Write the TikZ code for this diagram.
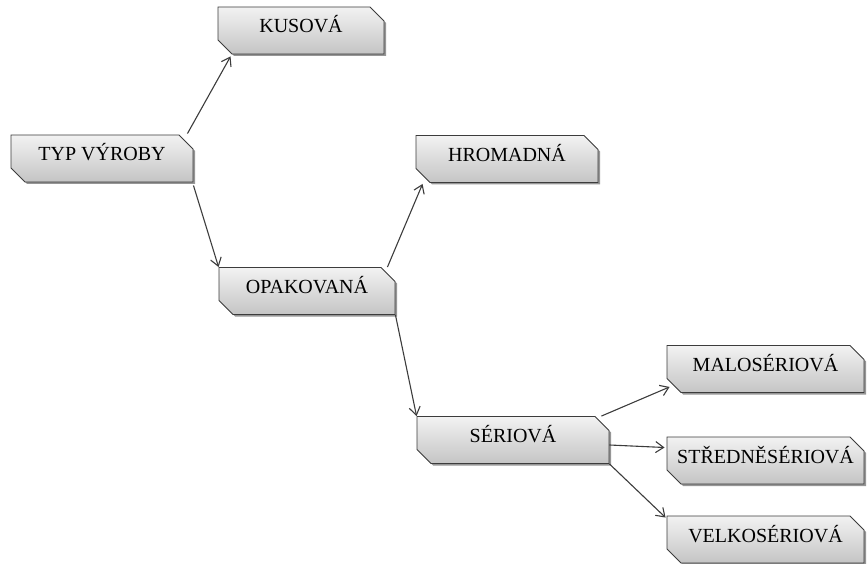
\documentclass[tikz,border=0pt]{standalone}
\usepackage{fontspec}
\setmainfont{Liberation Serif}
\usetikzlibrary{shapes.misc,shadows,arrows.meta,calc}

\definecolor{edgegray}{HTML}{3C3C3C}

\tikzset{
  box/.style={
    chamfered rectangle,
    chamfered rectangle corners={north east,south west},
    chamfered rectangle sep=7pt,
    draw=edgegray, line width=0.9pt,
    top color=black!5, bottom color=black!23,
    drop shadow={shadow xshift=2pt, shadow yshift=-2pt, fill=black!75, opacity=0.55},
    minimum height=47pt, inner sep=0pt,
    text height=10pt, text depth=5pt,
    font=\fontsize{20}{21}\selectfont
  },
  link/.style={draw=edgegray, line width=1.1pt, -{Straight Barb[length=8pt,width=11pt]}}
}

\begin{document}
\begin{tikzpicture}[x=1pt, y=-1pt]
  \useasboundingbox (0,0) rectangle (868,564);

  % boxes of the classification tree
  \node[box, minimum width=166pt] (kus)  at (301,30.5)   {KUSOVÁ};
  \node[box, minimum width=182pt] (typ)  at (102,158.5)  {TYP VÝROBY};
  \node[box, minimum width=182pt] (hrom) at (507,159)    {HROMADNÁ};
  \node[box, minimum width=176pt] (opak) at (307,291)    {OPAKOVANÁ};
  \node[box, minimum width=192pt] (ser)  at (513,440)    {SÉRIOVÁ};
  \node[box, minimum width=197pt] (malo) at (765.5,369)  {MALOSÉRIOVÁ};
  \node[box, minimum width=197pt] (str)  at (765.5,460.5){STŘEDNĚSÉRIOVÁ};
  \node[box, minimum width=197pt] (velk) at (765.5,539.5){VELKOSÉRIOVÁ};

  % connectors, attached at the corners of each box
  \draw[link] ($(typ.east |- typ.north)+(-6,-1)$) -- ($(kus.west |- kus.south)+(13,2)$);
  \draw[link] ($(typ.east |- typ.south)+(0,3)$) -- (opak.west |- opak.north);
  \draw[link] ($(opak.east |- opak.north)+(-8,0)$) -- ($(hrom.west |- hrom.south)+(7,1)$);
  \draw[link] (opak.east |- opak.south) -- (ser.west |- ser.north);
  \draw[link] ($(ser.east |- ser.north)+(-8,0)$) -- ($(malo.west |- malo.south)+(3,-6)$);
  \draw[link] ($(ser.east)+(0,5)$) -- ($(str.west)+(-2,-13)$);
  \draw[link] (ser.east |- ser.south) -- ($(velk.west |- velk.north)+(-1,2)$);
\end{tikzpicture}
\end{document}
